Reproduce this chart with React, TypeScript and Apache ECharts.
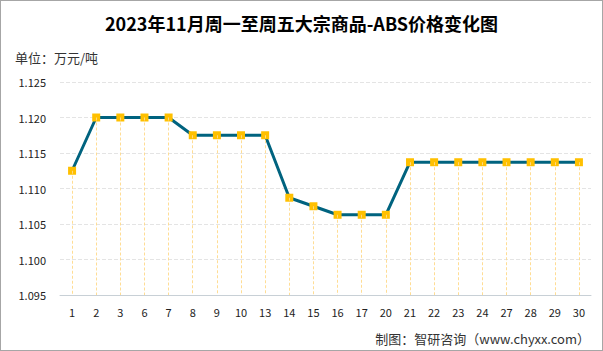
import React, { useEffect, useRef } from "react";
import * as echarts from "echarts";

const categories = ["1", "2", "3", "6", "7", "8", "9", "10", "13", "14", "15", "16", "17", "20", "21", "22", "23", "24", "27", "28", "29", "30"];
const prices = [1.1125, 1.12, 1.12, 1.12, 1.12, 1.1175, 1.1175, 1.1175, 1.1175, 1.1087, 1.1075, 1.1063, 1.1063, 1.1063, 1.1137, 1.1137, 1.1137, 1.1137, 1.1137, 1.1137, 1.1137, 1.1137];
const yMin = 1.095;
const yMax = 1.125;
const yStep = 0.005;
const titleText = "2023年11月周一至周五大宗商品-ABS价格变化图";
const unitText = "单位：万元/吨";
const sourceText = "制图：智研咨询（www.chyxx.com）";

export default function App() {
  const ref = useRef<HTMLDivElement>(null);
  useEffect(() => {
    document.body.style.margin = "0";
    const chart = echarts.init(ref.current!, null, { renderer: "svg" });
    const font = "'Noto Sans CJK SC', 'Noto Sans', sans-serif";
    chart.setOption({
      animation: false,
      backgroundColor: "#fff",
      textStyle: { fontFamily: font },
      title: [
        {
          text: titleText,
          left: "center",
          top: 8,
          textStyle: { fontSize: 18, fontWeight: "bold", color: "#000", fontFamily: font },
        },
        {
          text: unitText,
          left: 9,
          top: 45,
          textStyle: { fontSize: 13, fontWeight: "normal", color: "#333", fontFamily: font },
        },
        {
          text: sourceText,
          right: 7,
          top: 326,
          textStyle: { fontSize: 13, fontWeight: "normal", color: "#333", fontFamily: font },
        },
      ],
      grid: { left: 59, right: 11, top: 81, bottom: 55, containLabel: false },
      xAxis: {
        type: "category",
        data: categories,
        boundaryGap: true,
        axisLine: { show: true, lineStyle: { color: "#C8D0D6", width: 1 } },
        axisTick: { show: false },
        axisLabel: { color: "#222", fontSize: 11, margin: 11, interval: 0 },
        splitLine: { show: false },
      },
      yAxis: {
        type: "value",
        min: yMin,
        max: yMax,
        interval: yStep,
        axisLine: { show: false },
        axisTick: { show: false },
        axisLabel: {
          color: "#222",
          fontSize: 11,
          margin: 14,
          formatter: (v: number) => v.toFixed(3),
        },
        splitLine: { show: true, lineStyle: { color: "#E4E4E4", type: "dashed", width: 1 } },
      },
      series: [
        {
          type: "line",
          data: prices,
          symbol: "rect",
          symbolSize: 8,
          lineStyle: { color: "#00637F", width: 3 },
          itemStyle: { color: "#FFC000" },
          z: 3,
          markLine: {
            silent: true,
            symbol: "none",
            label: { show: false },
            lineStyle: { color: "#FFD98A", type: [3, 2], width: 1, opacity: 0.9 },
            data: prices.map((v, i) => [
              { coord: [i, v] },
              { coord: [i, yMin] },
            ]),
          },
        },
      ],
    });
    return () => chart.dispose();
  }, []);
  return (
    <div
      ref={ref}
      style={{ width: 603, height: 351, boxSizing: "border-box", border: "1px solid #A6A6A6" }}
    />
  );
}
